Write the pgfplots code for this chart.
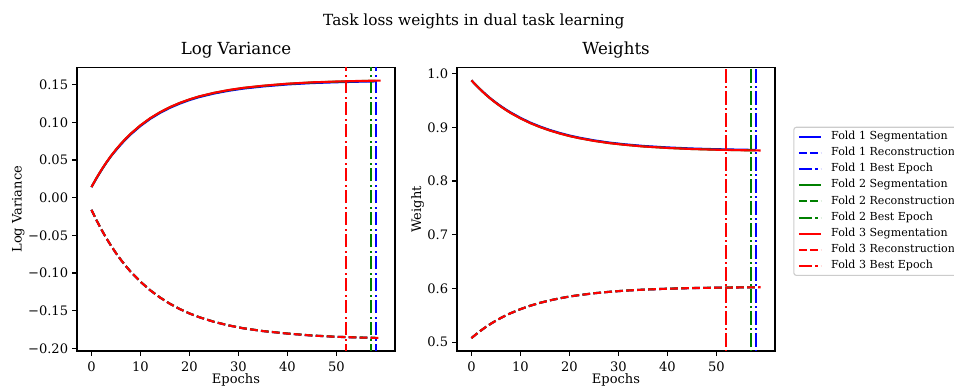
\documentclass[border=0pt]{standalone}
\usepackage{fontspec}
\setmainfont{DejaVu Serif}
\usepackage{pgfplots}
\usepackage{pgfplotstable}
\pgfplotsset{compat=1.18}

\definecolor{foldone}{rgb}{0,0,1}
\definecolor{foldtwo}{rgb}{0,0.5,0}
\definecolor{foldthree}{rgb}{1,0,0}

\newcommand\ticksize{\fontsize{13.1}{15}\selectfont}

% per-fold logs: log variances and resulting task weights per epoch
\pgfplotstableread{
ep lvseg lvrec wseg wrec
0 0.0140 -0.0162 0.9875 0.5074
1 0.0253 -0.0296 0.9780 0.5150
2 0.0360 -0.0420 0.9691 0.5220
3 0.0459 -0.0534 0.9608 0.5285
4 0.0550 -0.0639 0.9531 0.5344
5 0.0628 -0.0736 0.9461 0.5399
6 0.0704 -0.0825 0.9395 0.5449
7 0.0774 -0.0907 0.9334 0.5496
8 0.0838 -0.0983 0.9278 0.5538
10 0.0950 -0.1116 0.9177 0.5613
12 0.1045 -0.1230 0.9089 0.5677
14 0.1124 -0.1326 0.9015 0.5731
16 0.1191 -0.1408 0.8951 0.5776
18 0.1247 -0.1478 0.8896 0.5815
20 0.1294 -0.1537 0.8848 0.5848
22 0.1334 -0.1587 0.8808 0.5875
25 0.1381 -0.1648 0.8758 0.5909
28 0.1418 -0.1696 0.8718 0.5935
31 0.1447 -0.1734 0.8687 0.5956
35 0.1475 -0.1771 0.8654 0.5976
40 0.1502 -0.1804 0.8626 0.5994
45 0.1520 -0.1830 0.8606 0.6006
50 0.1531 -0.1847 0.8593 0.6013
55 0.1539 -0.1857 0.8584 0.6018
58 0.1542 -0.1861 0.8580 0.6020
}\foldA

\pgfplotstableread{
ep lvseg lvrec wseg wrec
0 0.0140 -0.0162 0.9875 0.5074
1 0.0256 -0.0295 0.9778 0.5151
2 0.0363 -0.0419 0.9688 0.5221
3 0.0462 -0.0533 0.9604 0.5286
4 0.0553 -0.0638 0.9526 0.5345
5 0.0636 -0.0735 0.9455 0.5400
6 0.0712 -0.0824 0.9388 0.5450
7 0.0782 -0.0906 0.9326 0.5497
8 0.0846 -0.0982 0.9269 0.5539
10 0.0958 -0.1115 0.9168 0.5614
12 0.1053 -0.1229 0.9080 0.5678
14 0.1132 -0.1325 0.9006 0.5732
16 0.1199 -0.1407 0.8942 0.5777
18 0.1255 -0.1477 0.8887 0.5816
20 0.1302 -0.1536 0.8839 0.5849
22 0.1342 -0.1586 0.8799 0.5876
25 0.1389 -0.1647 0.8749 0.5910
28 0.1426 -0.1695 0.8709 0.5936
31 0.1455 -0.1733 0.8678 0.5957
35 0.1483 -0.1770 0.8645 0.5977
40 0.1510 -0.1803 0.8617 0.5995
45 0.1528 -0.1829 0.8597 0.6007
50 0.1539 -0.1846 0.8584 0.6014
55 0.1547 -0.1856 0.8575 0.6019
58 0.1550 -0.1860 0.8571 0.6021
}\foldB

\pgfplotstableread{
ep lvseg lvrec wseg wrec
0 0.0140 -0.0162 0.9875 0.5074
1 0.0258 -0.0296 0.9777 0.5150
2 0.0365 -0.0420 0.9687 0.5220
3 0.0464 -0.0534 0.9603 0.5285
4 0.0555 -0.0639 0.9525 0.5344
5 0.0638 -0.0736 0.9454 0.5399
6 0.0714 -0.0825 0.9387 0.5449
7 0.0784 -0.0907 0.9325 0.5496
8 0.0848 -0.0983 0.9268 0.5538
10 0.0960 -0.1116 0.9167 0.5613
12 0.1055 -0.1230 0.9079 0.5677
14 0.1134 -0.1326 0.9005 0.5731
16 0.1201 -0.1408 0.8941 0.5776
18 0.1257 -0.1478 0.8886 0.5815
20 0.1304 -0.1537 0.8838 0.5848
22 0.1344 -0.1587 0.8798 0.5875
25 0.1391 -0.1648 0.8748 0.5909
28 0.1428 -0.1696 0.8708 0.5935
31 0.1457 -0.1734 0.8677 0.5956
35 0.1485 -0.1771 0.8644 0.5976
40 0.1512 -0.1804 0.8616 0.5994
45 0.1530 -0.1830 0.8596 0.6006
50 0.1541 -0.1847 0.8583 0.6013
55 0.1549 -0.1857 0.8574 0.6018
59 0.1553 -0.1862 0.8569 0.6021
}\foldC

\tikzset{
  seg/.style={line width=2.08bp, solid},
  rec/.style={line width=2.08bp, dash pattern=on 7.7bp off 3.3bp},
  best/.style={line width=2.08bp, dash pattern=on 13.3bp off 3.3bp on 2.1bp off 3.3bp},
}

\pgfplotsset{
  panel/.style={
    scale only axis, width=318bp, height=283.5bp,
    xmin=-2.95, xmax=61.95,
    xtick={0,10,20,30,40,50},
    xticklabels={{\ticksize 0},{\ticksize 10},{\ticksize 20},{\ticksize 30},{\ticksize 40},{\ticksize 50}},
    tick align=outside, xtick pos=bottom, ytick pos=left,
    major tick length=4.9bp,
    tick style={black, line width=1.1bp},
    axis line style={line width=1.1bp},
    every tick label/.append style={font=\ticksize, inner sep=0pt},
    xticklabel shift=5.8bp, yticklabel shift=3.8bp,
    title style={font=\fontsize{16.7}{20}\selectfont, at={(axis description cs:0.5,1.023)}, anchor=base, inner sep=0pt},
    label style={font=\ticksize, inner sep=0pt},
    xlabel={Epochs},
    xlabel style={at={(axis description cs:0.5,-0.1164)}, anchor=base},
    legend image code/.code={\draw[#1] (0bp,0bp) -- (22bp,0bp);},
  }
}

\begin{document}
\begin{tikzpicture}
\useasboundingbox (0,0) rectangle (954bp,391bp);

\node[font=\fontsize{15.4}{18}\selectfont, anchor=base, inner sep=0pt] at (473.9bp,365bp) {Task loss weights in dual task learning};

% log variance of each task
\begin{axis}[panel, at={(77bp,40bp)}, anchor=south west,
  title={Log Variance}, ylabel={Log Variance},
  ylabel style={at={(axis description cs:-0.174,0.5)}, anchor=base},
  ymin=-0.2035, ymax=0.1727,
  ytick={-0.20,-0.15,-0.10,-0.05,0,0.05,0.10,0.15},
  yticklabels={{\ticksize −0.20},{\ticksize −0.15},{\ticksize −0.10},{\ticksize −0.05},{\ticksize 0.00},{\ticksize 0.05},{\ticksize 0.10},{\ticksize 0.15}}]
  \addplot[foldone, seg] table[x=ep, y=lvseg] {\foldA};
  \addplot[foldone, rec] table[x=ep, y=lvrec] {\foldA};
  \addplot[foldone, best] coordinates {(58,-1) (58,1)};
  \addplot[foldtwo, seg] table[x=ep, y=lvseg] {\foldB};
  \addplot[foldtwo, rec] table[x=ep, y=lvrec] {\foldB};
  \addplot[foldtwo, best] coordinates {(57,-1) (57,1)};
  \addplot[foldthree, seg] table[x=ep, y=lvseg] {\foldC};
  \addplot[foldthree, rec] table[x=ep, y=lvrec] {\foldC};
  \addplot[foldthree, best] coordinates {(52,-1) (52,1)};
\end{axis}

% resulting task weights
\begin{axis}[panel, at={(457bp,40bp)}, anchor=south west,
  title={Weights}, ylabel={Weight},
  ylabel style={at={(axis description cs:-0.113,0.5)}, anchor=base},
  ymin=0.4834, ymax=1.0115,
  ytick={0.5,0.6,0.7,0.8,0.9,1.0},
  yticklabels={{\ticksize 0.5},{\ticksize 0.6},{\ticksize 0.7},{\ticksize 0.8},{\ticksize 0.9},{\ticksize 1.0}},
  legend cell align=left,
  legend style={at={(axis description cs:1.0575,0.791)}, anchor=north west,
    draw=black!20, line width=1.1bp, rounded corners=2.5bp, fill=white,
    inner sep=4bp, font=\fontsize{11.1}{13}\selectfont, row sep=5.7bp,
    nodes={inner sep=0pt, text height=8bp, text depth=2.5bp},
    /tikz/every odd column/.append style={column sep=9.3bp}}]
  \addplot[foldone, seg] table[x=ep, y=wseg] {\foldA};
  \addlegendentry{Fold 1 Segmentation}
  \addplot[foldone, rec] table[x=ep, y=wrec] {\foldA};
  \addlegendentry{Fold 1 Reconstruction}
  \addplot[foldone, best] coordinates {(58,0) (58,2)};
  \addlegendentry{Fold 1 Best Epoch}
  \addplot[foldtwo, seg] table[x=ep, y=wseg] {\foldB};
  \addlegendentry{Fold 2 Segmentation}
  \addplot[foldtwo, rec] table[x=ep, y=wrec] {\foldB};
  \addlegendentry{Fold 2 Reconstruction}
  \addplot[foldtwo, best] coordinates {(57,0) (57,2)};
  \addlegendentry{Fold 2 Best Epoch}
  \addplot[foldthree, seg] table[x=ep, y=wseg] {\foldC};
  \addlegendentry{Fold 3 Segmentation}
  \addplot[foldthree, rec] table[x=ep, y=wrec] {\foldC};
  \addlegendentry{Fold 3 Reconstruction}
  \addplot[foldthree, best] coordinates {(52,0) (52,2)};
  \addlegendentry{Fold 3 Best Epoch}
\end{axis}
\end{tikzpicture}
\end{document}
